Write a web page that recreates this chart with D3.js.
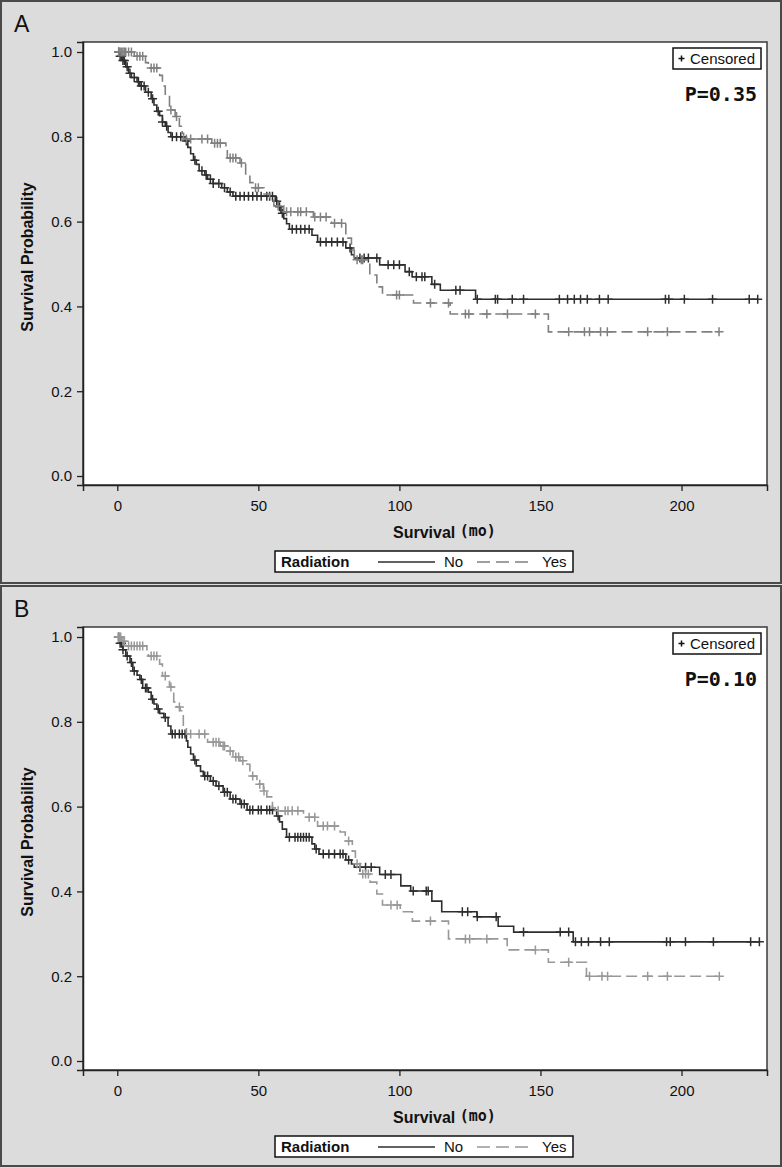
<!DOCTYPE html>
<html><head><meta charset="utf-8">
<script src="https://cdn.jsdelivr.net/npm/d3@7"></script>
<style>body{margin:0;background:#dcdcdc}svg{display:block}</style>
</head><body>
<svg id="c" width="782" height="1168"></svg>
<script>
// ---------------- DATA ----------------
const panelLabels = ["A", "B"];
const pValues = ["P=0.35", "P=0.10"];
const groups = ["No", "Yes"];
const xTicks = [0, 50, 100, 150, 200];
const yTicks = [0.0, 0.2, 0.4, 0.6, 0.8, 1.0];

// Panel A, Radiation = No : [time (mo), survival after drop]
const aNoSteps = [[1,0.99],[2,0.98],[3,0.965],[4,0.95],[5,0.94],[7,0.93],[8,0.92],[10,0.905],[12,0.89],[13,0.875],[14,0.86],[15,0.85],[16,0.835],[17,0.825],[18,0.81],[19,0.80],[24,0.79],[25,0.775],[26,0.76],[27,0.745],[28,0.735],[29,0.72],[31,0.71],[32,0.70],[34,0.69],[37,0.68],[39,0.67],[41,0.66],[56,0.648],[57,0.635],[58,0.62],[59,0.607],[60,0.595],[61,0.582],[69,0.568],[71,0.552],[81,0.538],[83,0.522],[84,0.514],[93,0.498],[102,0.482],[104.5,0.47],[111.5,0.452],[114.5,0.438],[127,0.417]];
const aNoCens = [0.5,1,1.5,2,2.5,3.5,4.5,6,7.5,8.5,9.5,11,12.5,14.5,16,17.5,19.5,21,22.5,24.5,27.5,30,31.5,33,34,36,38,40,42,43.5,45,46.5,48,49.5,51,53,54,55,56.5,57.5,58.5,62,63.5,65,66.5,68,72,74,76,78,80,82.5,86,87.5,89,92,96,98,100,103.5,106,108,109,112.5,120,121.5,127.6,134,134.8,140,144,156.7,159.6,162,164.2,166.6,170.9,174,194.3,195.5,201,211,224,227];
// Panel A, Radiation = Yes
const aYesSteps = [[6,0.99],[10,0.975],[11,0.962],[15,0.945],[16,0.92],[17,0.895],[18.5,0.863],[20.5,0.848],[22,0.825],[23,0.808],[23.5,0.795],[33.5,0.785],[38.5,0.773],[39,0.75],[43.5,0.738],[45.5,0.71],[47,0.692],[48.5,0.68],[52,0.665],[54,0.65],[55.5,0.637],[59,0.623],[69.5,0.611],[76,0.596],[81,0.561],[83,0.533],[84,0.51],[89.5,0.474],[92,0.446],[94,0.427],[105,0.408],[118,0.382],[152.8,0.34]];
const aYesCens = [0.5,1,1.5,2,2.5,3,4,5,7,8,9,12,13,14,19,21,24.5,26,30,32,34.5,35.5,36.5,40,41,42,44,49,50,57,60,61.5,64,65,67,70,72,74,77,79.5,85,86.5,87,99,100,111,117.4,123.4,124.6,131,138.3,148.2,160,165.6,167.4,171.3,173.7,188,195,213.3];
// Panel B, Radiation = No
const bNoSteps = [[1,0.985],[2,0.97],[3,0.955],[4.5,0.94],[5.5,0.92],[7,0.91],[8,0.9],[9,0.88],[11,0.87],[12,0.853],[13,0.842],[14,0.83],[15,0.82],[16.5,0.81],[18,0.79],[19,0.771],[24.5,0.755],[25,0.74],[26,0.724],[27,0.71],[28,0.696],[29.5,0.683],[30.5,0.672],[33,0.66],[35,0.649],[37.5,0.634],[40,0.618],[43.5,0.606],[46,0.592],[56.5,0.578],[57.5,0.564],[58.5,0.547],[60,0.528],[69,0.512],[70,0.5],[71.5,0.488],[81,0.474],[83,0.465],[84,0.457],[93,0.44],[100.5,0.413],[104,0.401],[111.5,0.377],[115,0.352],[127.5,0.34],[135,0.318],[140.5,0.304],[161.6,0.281]];
const bNoCens = [0.5,1,1.5,2,3.5,5,6,8.5,10,10.5,12.5,14.5,17,19.5,20.5,22,23,24,27.5,31,32,34,36,38,39,41,42,44,45,47,48,50,51,53,54,55,57,61,63,64,65,66,67,68,70.5,73,75,77,79,80,82,86,88,90,95,97,104.9,109.5,110.2,122.3,124.2,127.6,134.3,144,157,160,162.4,164.5,167,171.3,174.4,194.7,196,201.4,211.3,224.5,227.6];
// Panel B, Radiation = Yes
const bYesSteps = [[1.5,0.99],[3,0.979],[10.5,0.967],[11,0.955],[15,0.936],[16,0.908],[18.5,0.882],[20,0.847],[21,0.835],[22.3,0.826],[23.4,0.788],[24.5,0.771],[32,0.752],[36.5,0.743],[39,0.731],[41,0.717],[43.5,0.708],[46,0.7],[47,0.672],[49.5,0.653],[51.8,0.637],[53,0.623],[55,0.597],[56,0.59],[66,0.575],[71,0.554],[79,0.54],[80.8,0.519],[83.3,0.495],[84.4,0.465],[86,0.441],[89.6,0.422],[92,0.394],[94,0.368],[100.3,0.352],[104.6,0.33],[117.4,0.288],[138.2,0.262],[152.8,0.233],[166.3,0.2]];
const bYesCens = [0.3,0.8,1.2,2,2.5,4,5,6,7,8,9,12,13,14,17,19,22,26,29,31,34,35,36,37.5,38,40,42,43,44.5,48,50.5,52,57,59.5,60.5,62,64,68,70,73,74.5,77,82,85,87,88,89,97,99.2,111,123.4,124.9,131,148.2,160,167.4,171.8,173.8,188,195,213.4];

// ---------------- DRAW ----------------
const svg = d3.select("#c");
const colNo = "#2e2e2e", colYes = ["#808080", "#989898"];
const panels = [
  {top: 0, h: 584, steps: [aNoSteps, aYesSteps], cens: [aNoCens, aYesCens]},
  {top: 585, h: 582, steps: [bNoSteps, bYesSteps], cens: [bNoCens, bYesCens]}
];
const plotL = 83, plotR = 767;
const sans = "Liberation Sans, Arial, sans-serif";

function survAt(steps, t) {
  let s = 1;
  for (const [ti, si] of steps) { if (ti <= t) s = si; else break; }
  return s;
}

panels.forEach((p, i) => {
  const g = svg.append("g").attr("transform", `translate(0,${p.top})`);
  g.append("rect").attr("x", 1).attr("y", 1).attr("width", 780).attr("height", p.h - 2)
    .attr("fill", "#dcdcdc").attr("stroke", "#4a4a4a").attr("stroke-width", 2);
  g.append("text").attr("x", 14).attr("y", 32).text(panelLabels[i])
    .attr("font-family", sans).attr("font-size", 23).attr("fill", "#111");

  const plotT = 42, plotB = 485;
  const x = d3.scaleLinear().domain([-12.16, 230.3]).range([plotL, plotR]);
  const y = d3.scaleLinear().domain([-0.0212, 1.0236]).range([plotB, plotT]);

  g.append("rect").attr("x", plotL).attr("y", plotT).attr("width", plotR - plotL).attr("height", plotB - plotT)
    .attr("fill", "#fff").attr("stroke", "#3a3a3a").attr("stroke-width", 1.5);

  const ax = g.append("g").attr("transform", `translate(0,${plotB})`)
    .call(d3.axisBottom(x).tickValues(xTicks).tickSize(6).tickPadding(9).tickFormat(d3.format("d")));
  const ay = g.append("g").attr("transform", `translate(${plotL},0)`)
    .call(d3.axisLeft(y).tickValues(yTicks).tickSize(6).tickPadding(5).tickFormat(d3.format(".1f")));
  [ax, ay].forEach(a => {
    a.select(".domain").attr("stroke", "#222").attr("stroke-width", 1.5);
    a.selectAll(".tick line").attr("stroke", "#222").attr("stroke-width", 1.3);
    a.selectAll("text").attr("font-family", sans).attr("font-size", 15).attr("fill", "#111");
  });

  // curves
  const line = d3.line().x(d => x(d[0])).y(d => y(d[1])).curve(d3.curveStepAfter);
  [0, 1].forEach(k => {
    const steps = p.steps[k], cens = p.cens[k];
    const tEnd = Math.max(d3.max(cens), steps[steps.length - 1][0]);
    const pts = [[0, 1], ...steps, [tEnd, steps[steps.length - 1][1]]];
    const col = k === 0 ? colNo : colYes[i];
    g.append("path").attr("d", line(pts)).attr("fill", "none").attr("stroke", col)
      .attr("stroke-width", 1.6).attr("stroke-dasharray", k === 1 ? "11,5" : null);
    g.append("g").selectAll("path").data(cens).join("path")
      .attr("d", c => { const cx = x(c), cy = y(survAt(steps, c)); return `M${cx - 4.5},${cy}h9M${cx},${cy - 4.5}v9`; })
      .attr("stroke", col).attr("stroke-width", 1.5).attr("fill", "none");
  });

  // censored box
  const cb = g.append("g");
  cb.append("rect").attr("x", 673).attr("y", 48).attr("width", 88).attr("height", 21)
    .attr("fill", "#fff").attr("stroke", "#111").attr("stroke-width", 1.5);
  cb.append("path").attr("d", "M678.5,58.5h6M681.5,55.5v6").attr("stroke", "#111").attr("stroke-width", 1.5);
  cb.append("text").attr("x", 690).attr("y", 64).text("Censored")
    .attr("font-family", sans).attr("font-size", 15).attr("fill", "#111");
  g.append("text").attr("x", 757).attr("y", 101).attr("text-anchor", "end").text(pValues[i])
    .attr("font-family", "DejaVu Sans Mono, monospace").attr("font-weight", "bold").attr("font-size", 20).attr("fill", "#111");

  // axis titles
  const xt = g.append("text").attr("x", 393).attr("y", 538)
    .attr("font-family", sans).attr("font-size", 16).attr("font-weight", "bold").attr("fill", "#111");
  xt.append("tspan").text("Survival ");
  xt.append("tspan").attr("font-family", "DejaVu Sans Mono, monospace").attr("font-size", 15).attr("dy", -2).text("(mo)");
  g.append("text").attr("transform", "translate(33,257) rotate(-90)").attr("text-anchor", "middle")
    .text("Survival Probability").attr("font-family", sans)
    .attr("font-size", 16).attr("font-weight", "bold").attr("fill", "#111");

  // legend
  const lg = g.append("g");
  lg.append("rect").attr("x", 275).attr("y", 551).attr("width", 298).attr("height", 21)
    .attr("fill", "#fff").attr("stroke", "#111").attr("stroke-width", 1.5);
  lg.append("text").attr("x", 281).attr("y", 567).text("Radiation").attr("font-weight", "bold")
    .attr("font-family", sans).attr("font-size", 15).attr("fill", "#111");
  lg.append("line").attr("x1", 378).attr("x2", 435).attr("y1", 562).attr("y2", 562).attr("stroke", colNo).attr("stroke-width", 1.5);
  lg.append("text").attr("x", 444).attr("y", 567).text(groups[0])
    .attr("font-family", sans).attr("font-size", 15).attr("fill", "#111");
  lg.append("line").attr("x1", 477).attr("x2", 529).attr("y1", 562).attr("y2", 562).attr("stroke", colYes[i])
    .attr("stroke-width", 1.5).attr("stroke-dasharray", "13,6");
  lg.append("text").attr("x", 542).attr("y", 567).text(groups[1])
    .attr("font-family", sans).attr("font-size", 15).attr("fill", "#111");
});
</script>
</body></html>
